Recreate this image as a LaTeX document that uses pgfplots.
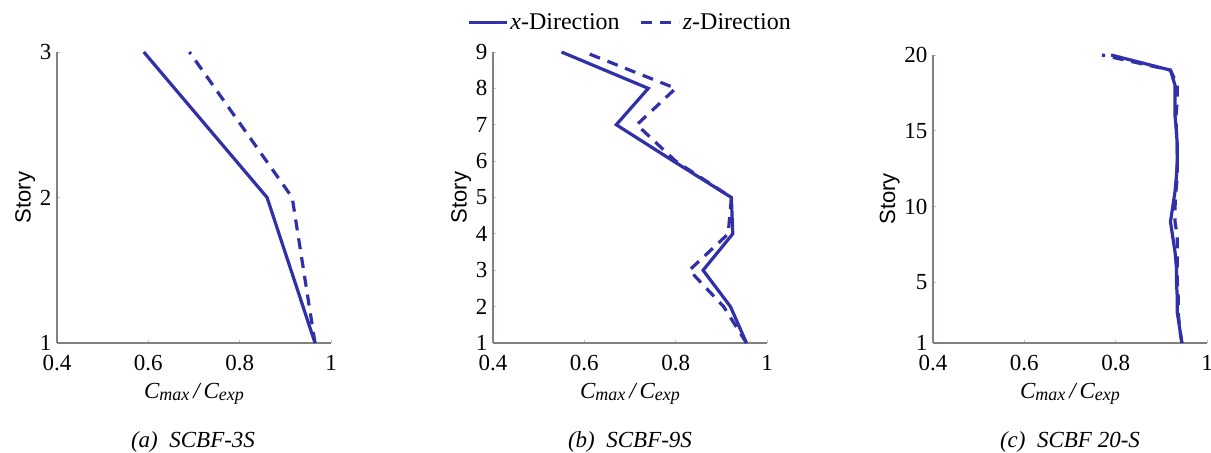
\documentclass[border=0pt]{standalone}
\usepackage{pgfplots}
\pgfplotsset{compat=1.18}
\usepackage{fontspec}
\setmainfont{Liberation Serif}
\newfontfamily\arialf{Liberation Sans}
\definecolor{lineblue}{RGB}{48,48,168}
\definecolor{axgray}{RGB}{135,125,125}
\newcommand{\tickfont}{\fontsize{23bp}{25bp}\selectfont}
\newcommand{\xlab}{\textit{C\raisebox{-0.25ex}{\fontsize{18bp}{19bp}\selectfont max}\,/\,C\raisebox{-0.25ex}{\fontsize{18bp}{19bp}\selectfont exp}}}
\pgfplotsset{
  panel/.style={
    scale only axis, width=274bp, clip=false,
    xmin=0.4, xmax=1, ymin=1,
    axis x line*=bottom, axis y line*=left,
    axis line style={axgray, line width=1.2bp},
    every tick/.style={axgray!50, line width=0.8bp},
    major tick length=3bp,
    xtick={0.4,0.6,0.8,1}, xticklabels={0.4,0.6,0.8,1},
    /pgf/number format/assume math mode=true,
    tick label style={font=\tickfont},
    xticklabel style={yshift=-9bp},
    yticklabel style={xshift=-2bp},
    xlabel={\xlab}, xlabel style={font=\fontsize{23bp}{25bp}\selectfont, yshift=-5bp},
    ylabel={Story}, ylabel style={font=\arialf\fontsize{22bp}{24bp}\selectfont, yshift=-2bp},
  },
  sol/.style={lineblue, line width=3.2bp, line join=miter},
  das/.style={lineblue, line width=3.2bp, dash pattern=on 11bp off 8bp},
}
\begin{document}
\begin{tikzpicture}
\useasboundingbox (0,0) rectangle (1211bp,453bp);
% panel a
\begin{axis}[panel, at={(57bp,110bp)}, anchor=south west, height=291bp,
  ymax=3, ytick={1,2,3}]
\addplot[das] coordinates {(0.965,1) (0.915,2) (0.69,3)};
\addplot[sol] coordinates {(0.965,1) (0.86,2) (0.59,3)};
\end{axis}
\node[font=\fontsize{23bp}{26bp}\selectfont\itshape] at (193bp,11bp) {(a)\ \ SCBF-3S};
% panel b
\begin{axis}[panel, at={(493bp,110bp)}, anchor=south west, height=291bp,
  ymax=9, ytick={1,2,...,9},
  legend style={at={(0.5,1)}, anchor=south, yshift=17bp, draw=none, fill=none,
    font=\fontsize{24bp}{26bp}\selectfont, legend columns=2,
    /tikz/every even column/.append style={column sep=18bp}},
  legend image code/.code={\draw[#1] (0bp,0bp) -- (38bp,0bp);}]
\addplot[sol] coordinates {(0.955,1) (0.92,2) (0.86,3) (0.925,4) (0.922,5) (0.795,6) (0.67,7) (0.74,8) (0.55,9)};
\addplot[das] coordinates {(0.955,1) (0.905,2) (0.83,3) (0.915,4) (0.922,5) (0.80,6) (0.715,7) (0.80,8) (0.60,9)};
\legend{\textit{x}-Direction, \textit{z}-Direction}
\end{axis}
\node[font=\fontsize{23bp}{26bp}\selectfont\itshape] at (630bp,11bp) {(b)\ \ SCBF-9S};
% panel c
\begin{axis}[panel, at={(933bp,110bp)}, anchor=south west, height=288bp,
  ymax=20, ytick={1,5,10,15,20}]
\addplot[das] coordinates {(0.945,1) (0.94,2) (0.937,3) (0.937,4) (0.935,5) (0.935,6) (0.935,7) (0.935,8) (0.93,9) (0.93,10) (0.932,11) (0.935,12) (0.935,13) (0.935,14) (0.933,15) (0.932,16) (0.935,17) (0.935,18) (0.92,19) (0.77,20)};
\addplot[sol] coordinates {(0.945,1) (0.94,2) (0.935,3) (0.935,4) (0.933,5) (0.933,6) (0.93,7) (0.925,8) (0.92,9) (0.925,10) (0.93,11) (0.933,12) (0.935,13) (0.935,14) (0.933,15) (0.93,16) (0.93,17) (0.93,18) (0.92,19) (0.79,20)};
\end{axis}
\node[font=\fontsize{23bp}{26bp}\selectfont\itshape] at (1070bp,11bp) {(c)\ \ SCBF 20-S};
\end{tikzpicture}
\end{document}
